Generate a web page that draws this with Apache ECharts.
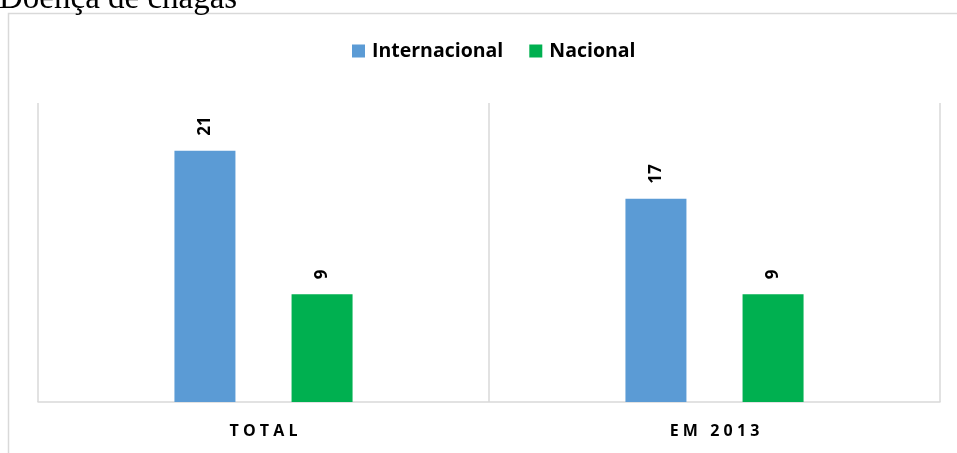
<!DOCTYPE html>
<html>
<head>
<meta charset="utf-8">
<script src="https://cdn.jsdelivr.net/npm/echarts@6/dist/echarts.min.js"></script>
<style>
  html, body { margin: 0; padding: 0; background: #fff; }
  #chart { width: 957px; height: 453px; }
</style>
</head>
<body>
<div id="chart"></div>
<script>
// Chagas disease counts: international vs national, overall and in 2013
const categories = ['TOTAL', 'EM 2013'];
const internacional = [21, 17];
const nacional = [9, 9];
const seriesNames = ['Internacional', 'Nacional'];

const chart = echarts.init(document.getElementById('chart'), null, { renderer: 'canvas' });

const labelStyle = {
  show: true,
  position: 'top',
  rotate: 90,
  align: 'left',
  verticalAlign: 'middle',
  distance: 15,
  fontFamily: 'Open Sans',
  fontWeight: 'bold',
  fontSize: 17,
  color: '#000'
};

// spread the category letters out, the way the axis titles are tracked
const spaced = (s) => s.split('').join(' ');

chart.setOption({
  animation: false,
  backgroundColor: '#fff',
  title: {
    text: 'Doença de chagas',
    left: -1,
    top: -17,
    padding: 0,
    textStyle: {
      fontFamily: 'Liberation Serif',
      fontWeight: 'normal',
      fontSize: 33,
      color: '#000'
    }
  },
  graphic: [{
    type: 'rect',
    shape: { x: 8.5, y: 13.5, width: 960, height: 460 },
    style: { fill: 'none', stroke: '#d9d9d9', lineWidth: 1.5 },
    silent: true
  }],
  legend: {
    data: seriesNames,
    top: 41,
    left: 352,
    itemWidth: 13,
    itemHeight: 13,
    itemGap: 26,
    padding: 0,
    icon: 'rect',
    textStyle: {
      fontFamily: 'Open Sans',
      fontWeight: 'bold',
      fontSize: 19.5,
      padding: [0, 0, 0, 2],
      color: '#000'
    }
  },
  grid: { left: 38, right: 17, top: 103, bottom: 51 },
  xAxis: {
    type: 'category',
    data: categories,
    axisLine: { show: true, lineStyle: { color: '#d9d9d9', width: 1.5 } },
    axisTick: { show: false },
    splitLine: { show: true, lineStyle: { color: '#d9d9d9', width: 1.5 } },
    axisLabel: {
      margin: 21,
      formatter: spaced,
      fontFamily: 'Open Sans',
      fontWeight: 'bold',
      fontSize: 16,
      color: '#000'
    }
  },
  yAxis: {
    type: 'value',
    min: 0,
    max: 25,
    show: false,
    splitLine: { show: false }
  },
  series: [
    {
      name: seriesNames[0],
      type: 'bar',
      data: internacional,
      barWidth: 61,
      barGap: '92%',
      itemStyle: { color: '#5b9bd5' },
      label: labelStyle
    },
    {
      name: seriesNames[1],
      type: 'bar',
      data: nacional,
      barWidth: 61,
      barGap: '92%',
      itemStyle: { color: '#00b050' },
      label: labelStyle
    }
  ]
});
</script>
</body>
</html>
